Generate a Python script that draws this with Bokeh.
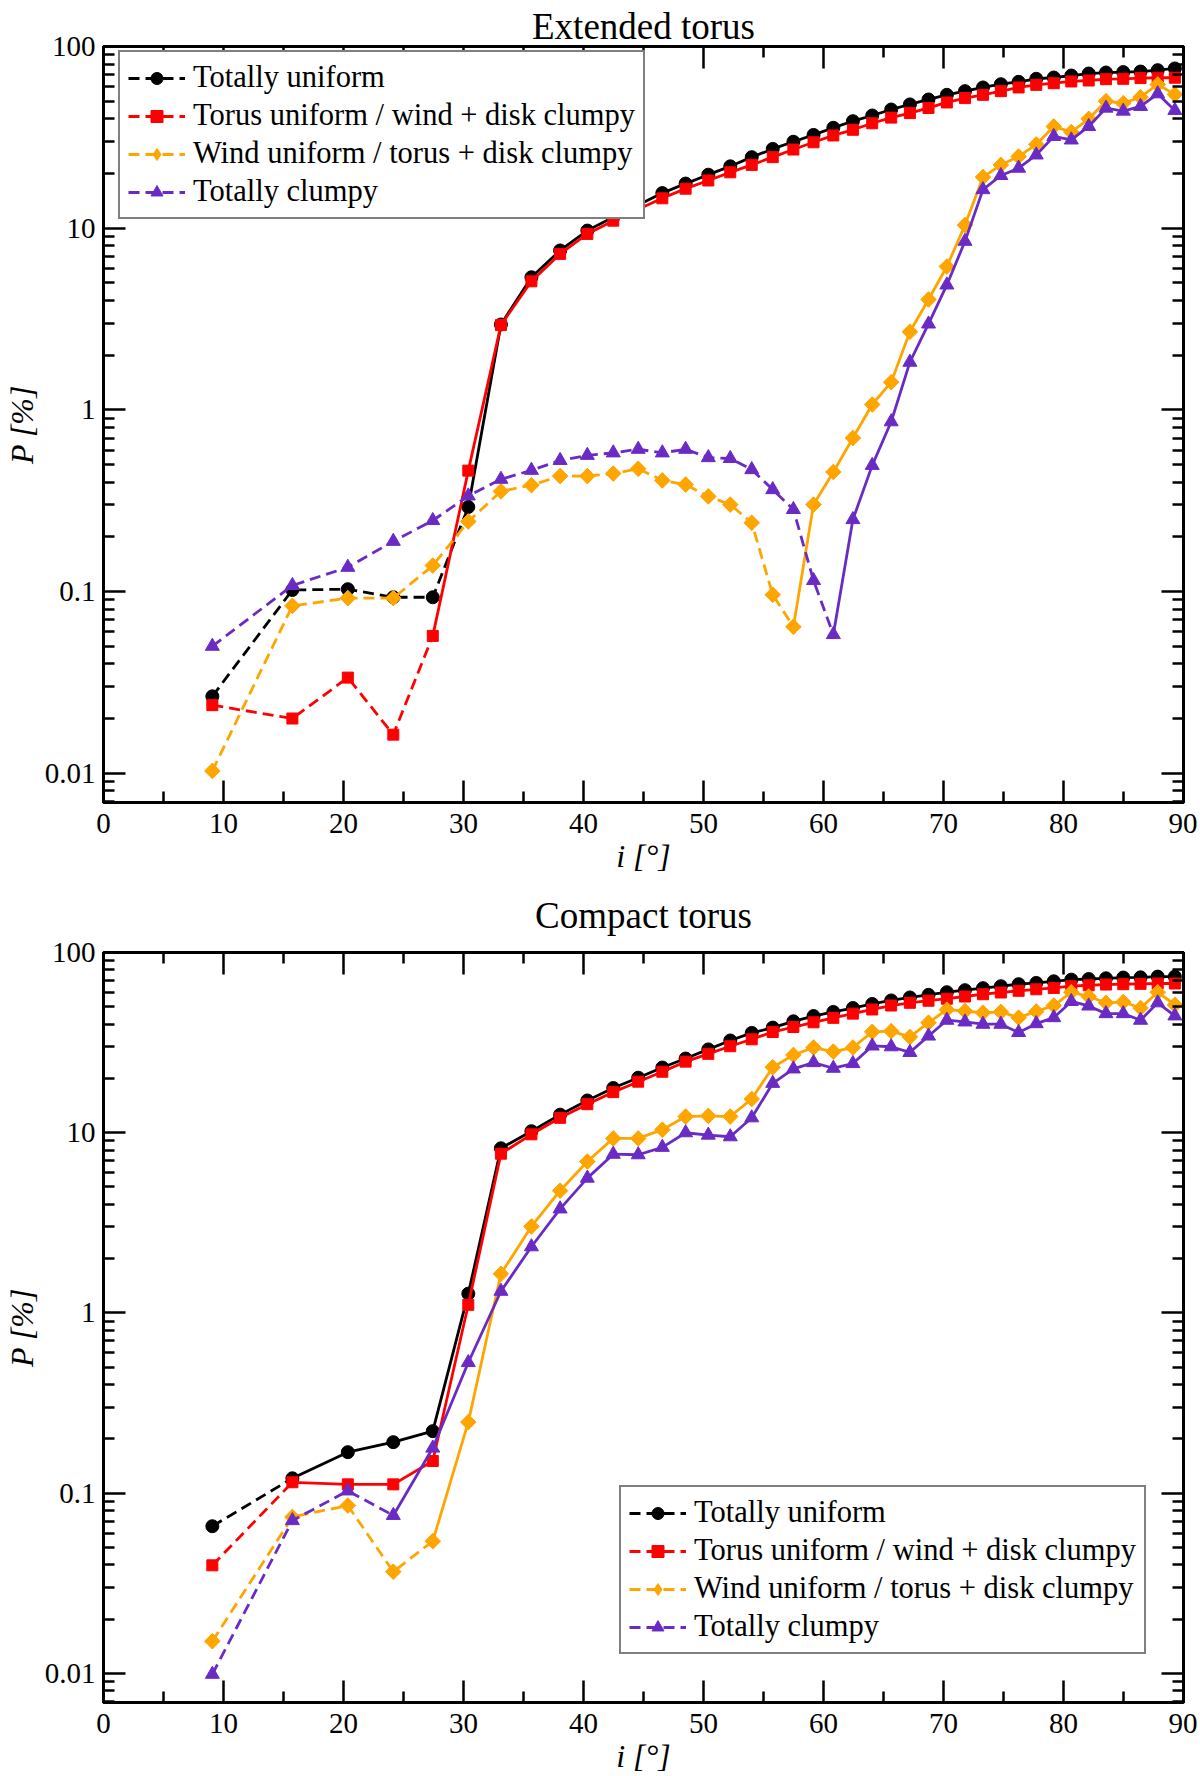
import math
from bokeh.plotting import figure
from bokeh.models import (FixedTicker, LinearAxis, LogAxis, Legend, LegendItem,
                          CustomJSTickFormatter, Range1d, ColumnDataSource)
from bokeh.layouts import column
from bokeh.embed import file_html
from bokeh.resources import INLINE

# ---------------- data ----------------
INCLINATION = [9.07, 15.74, 20.36, 24.15, 27.44, 30.40, 33.12, 35.66, 38.05, 40.32,
               42.48, 44.56, 46.57, 48.51, 50.40, 52.23, 54.02, 55.77, 57.49, 59.17,
               60.82, 62.45, 64.06, 65.64, 67.20, 68.75, 70.28, 71.79, 73.29, 74.78,
               76.26, 77.73, 79.19, 80.65, 82.10, 83.54, 84.98, 86.42, 87.85, 89.28]

SERIES_NAMES = ["Totally uniform",
                "Torus uniform / wind + disk clumpy",
                "Wind uniform / torus + disk clumpy",
                "Totally clumpy"]

# Extended torus
EXT_TOTALLY_UNIFORM = [0.0265, 0.102, 0.103, 0.093, 0.093, 0.292, 2.95, 5.37, 7.54, 9.7,
                       11.5, 13.4, 15.6, 17.6, 19.7, 21.9, 24.6, 27.3, 29.9, 32.6,
                       35.7, 38.8, 41.7, 45.0, 48.0, 51.1, 54.2, 56.8, 59.5, 62.0,
                       63.9, 66.4, 67.5, 69.2, 71.0, 71.9, 72.3, 72.8, 74.1, 75.7]
EXT_TORUS_UNIFORM = [0.0237, 0.020, 0.0336, 0.0163, 0.057, 0.463, 2.93, 5.1, 7.22, 9.3,
                     11.0, 12.7, 14.6, 16.5, 18.3, 20.3, 22.3, 24.6, 27.1, 29.7,
                     32.4, 34.8, 37.8, 40.6, 43.0, 45.9, 49.2, 52.0, 54.2, 56.8,
                     59.5, 61.5, 62.8, 64.2, 65.0, 66.1, 66.4, 67.0, 67.3, 67.3]
EXT_WIND_UNIFORM = [0.0103, 0.0834, 0.092, 0.092, 0.139, 0.243, 0.356, 0.385, 0.432, 0.432,
                    0.446, 0.474, 0.409, 0.388, 0.334, 0.301, 0.239, 0.096, 0.064, 0.301,
                    0.455, 0.70, 1.07, 1.42, 2.69, 4.05, 6.15, 10.4, 19.1, 22.3,
                    24.8, 28.9, 36.3, 33.8, 40.0, 50.0, 48.7, 52.6, 61.8, 54.5]
EXT_TOTALLY_CLUMPY = [0.050, 0.108, 0.136, 0.189, 0.246, 0.336, 0.415, 0.465, 0.527, 0.562,
                      0.58, 0.607, 0.58, 0.607, 0.546, 0.54, 0.469, 0.364, 0.283, 0.115,
                      0.058, 0.249, 0.495, 0.86, 1.83, 2.97, 4.87, 8.47, 16.3, 19.5,
                      21.4, 25.3, 32.0, 30.6, 36.3, 45.8, 44.1, 46.8, 54.9, 44.5]
# inclination at which each curve switches from dashed to solid (polarization angle flip)
EXT_FLIP = [30.40, 27.44, 57.49, 60.82]

# Compact torus
CMP_TOTALLY_UNIFORM = [0.0656, 0.121, 0.169, 0.192, 0.221, 1.28, 8.2, 10.2, 12.6, 15.1,
                       17.7, 20.2, 23.0, 25.8, 29.0, 32.5, 35.8, 38.3, 41.5, 44.4,
                       46.8, 49.2, 51.8, 54.2, 56.3, 58.2, 60.2, 61.8, 63.4, 65.0,
                       66.7, 67.8, 69.2, 70.7, 71.3, 71.9, 72.6, 72.8, 73.5, 73.5]
CMP_TORUS_UNIFORM = [0.0398, 0.115, 0.112, 0.112, 0.151, 1.11, 7.65, 9.8, 12.1, 14.4,
                     16.8, 19.2, 21.8, 24.8, 27.4, 30.2, 33.0, 36.2, 38.6, 41.0,
                     43.4, 45.8, 48.3, 50.8, 52.6, 54.0, 55.4, 57.0, 58.7, 60.0,
                     61.3, 62.5, 63.6, 65.0, 65.8, 66.4, 66.7, 67.0, 67.3, 67.3]
CMP_WIND_UNIFORM = [0.0151, 0.0738, 0.0855, 0.0367, 0.0542, 0.248, 1.65, 3.02, 4.77, 6.92,
                    9.3, 9.3, 10.4, 12.3, 12.4, 12.3, 15.4, 23.1, 27.0, 29.7,
                    28.2, 29.7, 36.3, 36.6, 34.0, 40.8, 48.2, 47.3, 46.3, 46.8,
                    43.5, 47.1, 50.8, 60.2, 57.0, 52.6, 53.1, 49.2, 60.2, 51.3]
CMP_TOTALLY_CLUMPY = [0.0099, 0.0705, 0.103, 0.0753, 0.178, 0.531, 1.32, 2.33, 3.78, 5.6,
                      7.6, 7.55, 8.3, 10.0, 9.7, 9.5, 12.1, 18.8, 22.6, 24.5,
                      22.8, 24.2, 30.3, 30.0, 27.9, 34.4, 42.1, 41.2, 40.0, 40.0,
                      36.0, 40.3, 43.5, 53.5, 50.5, 45.8, 45.8, 42.1, 52.6, 44.5]
CMP_FLIP = [15.74, 15.74, 27.44, 24.15]

X_TICKS = [0, 10, 20, 30, 40, 50, 60, 70, 80, 90]
X_MINOR = [5, 15, 25, 35, 45, 55, 65, 75, 85]
Y_TICKS = [0.01, 0.1, 1, 10, 100]
Y_MIN, Y_MAX = 0.0069, 100

# ---------------- style ----------------
FONT = "Liberation Serif"
COLORS = ["#000000", "#ff0000", "#ffa500", "#6a2bc4"]
# (marker in plot, size, angle, legend marker drawn underneath, legend size)
MARKERS = [("circle", 13, 0.0, None, 0),
           ("square", 11, 0.0, None, 0),
           ("square", 11, math.pi / 4, "diamond", 15),
           ("triangle", 14, 0.0, None, 0)]
FW = 1080

y_minor = [m * 10.0 ** e for e in range(-3, 2) for m in range(2, 10)]
y_minor = [v for v in y_minor if Y_MIN <= v <= Y_MAX]


def style_axis(ax, ticker, labels=True):
    ax.ticker = ticker
    ax.axis_line_color = "black"
    ax.axis_line_width = 3
    ax.major_tick_line_color = "black"
    ax.major_tick_line_width = 2.5
    ax.minor_tick_line_color = "black"
    ax.minor_tick_line_width = 2.5
    ax.major_tick_in = 22
    ax.major_tick_out = 0
    ax.minor_tick_in = 11
    ax.minor_tick_out = 0
    ax.major_label_text_font = FONT
    ax.major_label_text_font_size = "29px"
    ax.major_label_text_color = "black"
    ax.axis_label_text_font = FONT
    ax.axis_label_text_font_size = "32px"
    ax.axis_label_text_font_style = "italic"
    ax.axis_label_text_color = "black"
    if labels:
        ax.formatter = CustomJSTickFormatter(code="return tick.toString();")
    else:
        ax.formatter = CustomJSTickFormatter(code="return '';")
        ax.major_label_standoff = 0
        ax.major_label_text_font_size = "1px"


def make_panel(title, series, flips, legend_loc, frame_h, b_top, b_bottom,
               title_standoff, xlabel_standoff):
    p = figure(frame_width=FW, frame_height=frame_h,
               x_range=Range1d(0, 90), y_range=Range1d(Y_MIN, Y_MAX),
               y_axis_type="log", output_backend="svg", toolbar_location=None,
               min_border_left=102, min_border_right=14,
               min_border_top=b_top, min_border_bottom=b_bottom,
               background_fill_color="white", border_fill_color="white")
    p.title.text = title
    p.title.align = "center"
    p.title.text_font = FONT
    p.title.text_font_size = "37px"
    p.title.text_font_style = "normal"
    p.title.text_color = "black"
    p.title.standoff = title_standoff

    p.xgrid.visible = False
    p.ygrid.visible = False
    p.outline_line_color = "black"
    p.outline_line_width = 3
    p.outline_line_alpha = 1.0

    style_axis(p.xaxis[0], FixedTicker(ticks=X_TICKS, minor_ticks=X_MINOR))
    p.xaxis[0].major_label_standoff = 11
    p.xaxis[0].axis_label = "i [°]"
    p.xaxis[0].axis_label_standoff = xlabel_standoff
    style_axis(p.yaxis[0], FixedTicker(ticks=Y_TICKS, minor_ticks=y_minor))
    p.yaxis[0].major_label_standoff = 8
    p.yaxis[0].axis_label = "P [%]"
    p.yaxis[0].axis_label_standoff = 2

    top = LinearAxis()
    style_axis(top, FixedTicker(ticks=X_TICKS, minor_ticks=X_MINOR), labels=False)
    p.add_layout(top, "above")
    right = LogAxis()
    style_axis(right, FixedTicker(ticks=Y_TICKS, minor_ticks=y_minor), labels=False)
    p.add_layout(right, "right")

    items = []
    for vals, flip, color, mk, name in zip(series, flips, COLORS, MARKERS, SERIES_NAMES):
        marker, size, ang, leg_marker, leg_size = mk
        k = INCLINATION.index(flip)
        dsrc = ColumnDataSource(dict(x=INCLINATION[:k + 1], y=vals[:k + 1]))
        ssrc = ColumnDataSource(dict(x=INCLINATION[k:], y=vals[k:]))
        msrc = ColumnDataSource(dict(x=INCLINATION, y=vals))
        r_d = p.line("x", "y", source=dsrc, line_color=color, line_width=2.8, line_dash="11 6")
        p.line("x", "y", source=ssrc, line_color=color, line_width=2.8)
        r_leg = None
        if leg_marker is not None:
            # same points, drawn beneath the rotated squares; gives the legend its diamond
            r_leg = p.scatter("x", "y", source=msrc, marker=leg_marker, size=leg_size,
                              fill_color=color, line_color=color, line_width=1)
        r_m = p.scatter("x", "y", source=msrc, marker=marker, size=size, angle=ang,
                        fill_color=color, line_color=color, line_width=1)
        if r_leg is None:
            r_leg = r_m
        items.append(LegendItem(label=name, renderers=[r_d, r_leg]))

    legend = Legend(items=items, location=legend_loc)
    legend.label_text_font = FONT
    legend.label_text_font_size = "30.5px"
    legend.label_text_color = "black"
    legend.glyph_width = 57
    legend.glyph_height = 30
    legend.label_height = 30
    legend.label_standoff = 8
    legend.spacing = 3
    legend.padding = 8
    legend.margin = 0
    legend.border_line_color = "black"
    legend.border_line_width = 2
    legend.background_fill_color = "white"
    legend.background_fill_alpha = 1.0
    p.add_layout(legend)
    return p


p1 = make_panel("Extended torus",
                [EXT_TOTALLY_UNIFORM, EXT_TORUS_UNIFORM, EXT_WIND_UNIFORM, EXT_TOTALLY_CLUMPY],
                EXT_FLIP, (15, 583), 756, 46, 73, 0, 2)
p2 = make_panel("Compact torus",
                [CMP_TOTALLY_UNIFORM, CMP_TORUS_UNIFORM, CMP_WIND_UNIFORM, CMP_TOTALLY_CLUMPY],
                CMP_FLIP, (516, 48), 750, 75, 70, 33, 2)

layout = column(p1, p2)
open("out.html", "w").write(file_html(layout, INLINE))
